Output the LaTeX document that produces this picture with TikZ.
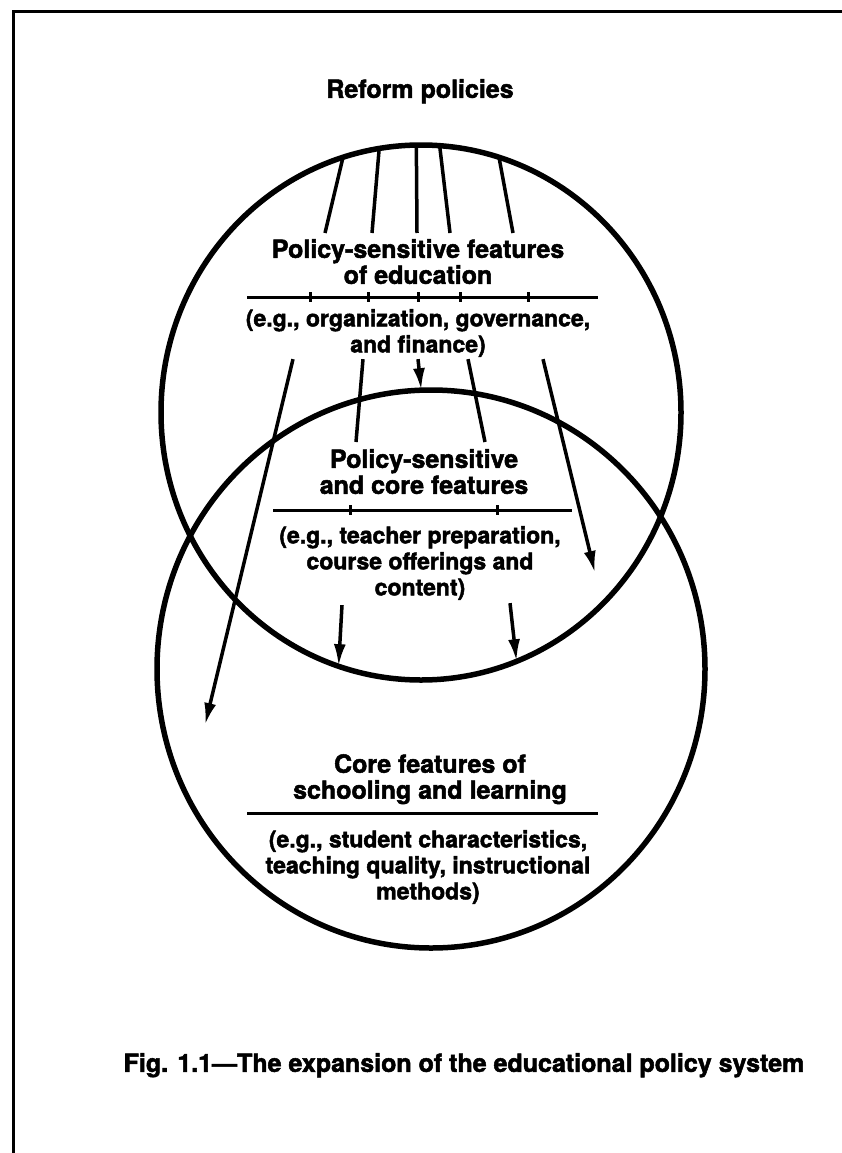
\documentclass[tikz,border=0pt]{standalone}
\usepackage{fontspec}
\setmainfont{TeX Gyre Heros}[BoldFeatures={FakeBold=2}]
\usepackage{tikz}
\usetikzlibrary{arrows.meta,calc,positioning,shapes.geometric}
\tikzset{>={Latex[length=22pt,width=12pt]}}
\tikzstyle{field}   = [ellipse, draw, line width=5.5pt, inner sep=0pt, outer sep=0pt]
\tikzstyle{feat}    = [align=center, inner sep=0pt, font=\bfseries\fontsize{25}{26}\selectfont]
\tikzstyle{eg}      = [feat, font=\bfseries\fontsize{23}{26}\selectfont]
\tikzstyle{feed}    = [line width=3.5pt]
\tikzstyle{flow}    = [feed, ->]
\tikzstyle{rulebar} = [line width=3pt]

\begin{document}
\begin{tikzpicture}[x=1pt, y=1pt]
  \useasboundingbox (0,0) rectangle (842,-1153);
  \draw[line width=3pt] (13,-1153) -- (13,-12) -- (842,-12);

  \node[feat, anchor=north] (reform) at (420,-79) {Reform policies};

  % the two fields
  \node[field, minimum width=520pt, minimum height=535pt] (policy) at (421,-412.5) {};
  \node[field, minimum width=548pt, minimum height=558pt] (core) at (431,-669) {};

  % policy-sensitive features
  \node[feat, anchor=north] (head1) at (418,-239) {Policy-sensitive features\\of education};
  \draw[rulebar] (247,-297) -- (598,-297);
  \foreach \x in {310,368,418,460,528} \draw[rulebar] (\x,-292) -- (\x,-302);
  \node[eg, anchor=north] (eg1) at (418,-309) {(e.g., organization, governance,\\and finance)};
  \foreach \a/\dx in {107/-93, 99/-46, 91/-1, 86/32, 73/95}
    \draw[feed] (policy.\a) -- ([xshift=\dx pt, yshift=6pt]head1.north);

  % policy-sensitive and core features
  \node[feat, anchor=north] (head2) at (424,-449) {Policy-sensitive\\and core features};
  \draw[rulebar] (273,-510) -- (572,-510);
  \foreach \x in {350,497} \draw[rulebar] (\x,-505) -- (\x,-515);
  \node[eg, anchor=north] (eg2) at (420,-526) {(e.g., teacher preparation,\\course offerings and\\content)};

  % core features
  \node[feat, anchor=north] (head3) at (430,-754) {Core features of\\schooling and learning};
  \draw[rulebar] (247,-813) -- (598,-813);
  \node[eg, anchor=north] (eg3) at (428,-830) {(e.g., student characteristics,\\teaching quality, instructional\\methods)};

  \coordinate (lefttip)  at (205,-725);
  \coordinate (righttip) at (595,-573);
  \draw[flow] ([xshift=-125pt, yshift=-2pt]eg1.south) -- (lefttip);
  \draw[feed] ([xshift=-55pt, yshift=-2pt]eg1.south) -- ([xshift=-68pt, yshift=7pt]head2.north);
  \draw[flow] ([yshift=-2pt]eg1.south) -- (core.92);
  \draw[feed] ([xshift=50pt, yshift=-2pt]eg1.south) -- ([xshift=61pt, yshift=7pt]head2.north);
  \draw[flow] ([xshift=125pt, yshift=-2pt]eg1.south) -- (righttip);
  \draw[flow] ([xshift=-78pt, yshift=-5pt]eg2.south) -- (policy.252);
  \draw[flow] ([xshift=90pt, yshift=-3pt]eg2.south) -- (policy.291);

  \node[feat, anchor=north] (fig) at (464,-1053) {Fig. 1.1---The expansion of the educational policy system};
\end{tikzpicture}
\end{document}
